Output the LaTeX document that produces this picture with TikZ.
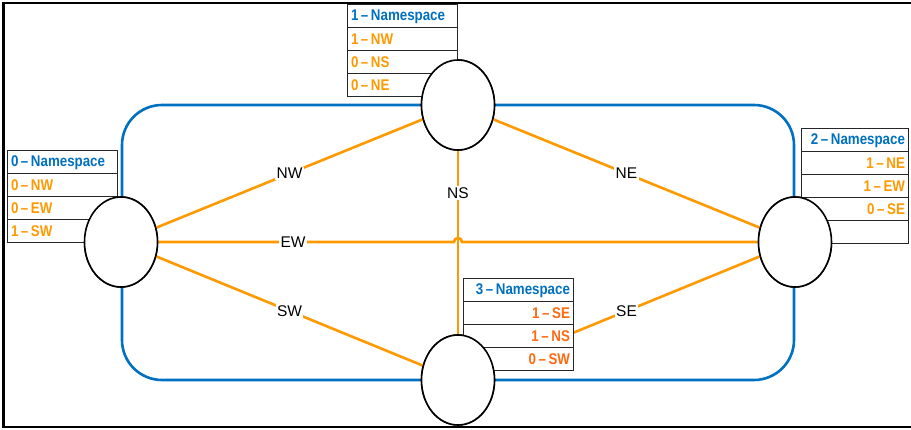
\documentclass[tikz,border=0pt]{standalone}
\usepackage{fontspec}
\setmainfont{Liberation Sans}
\newfontfamily\tabfont[FakeStretch=0.86]{Liberation Sans}
\usetikzlibrary{shapes.geometric}
\definecolor{nsblue}{HTML}{0070C0}
\definecolor{nsorange}{HTML}{FF9900}
\definecolor{nsdark}{HTML}{FF6A10}
\tikzset{
  frame/.style={line width=2.6pt, black},
  ring/.style={line width=2.6pt, nsblue, rounded corners=40pt},
  edge/.style={line width=2.6pt, nsorange},
  elab/.style={fill=white, inner sep=1.5pt, font=\fontsize{15.5}{15.5}\selectfont, text=black},
  site/.style={ellipse, draw=black, line width=1.6pt, fill=white, minimum width=73pt, minimum height=90pt, inner sep=0pt},
  cell/.style={draw=black!85, line width=1pt, fill=white, minimum height=23pt, inner sep=0pt,
    font=\tabfont\bfseries\fontsize{15.5}{15.5}\selectfont},
  lcell/.style={cell, text width=102pt, minimum width=110pt, align=left},
  rcell/.style={cell, text width=101pt, minimum width=107pt, align=right},
  r3cell/.style={cell, text width=104pt, minimum width=110pt, align=right},
  hd/.style={text=nsblue},
  ro/.style={text=nsorange},
  rd/.style={text=nsdark},
}
\begin{document}
\begin{tikzpicture}[x=1pt,y=-1pt]
\useasboundingbox (0,0) rectangle (911,430);
\draw[frame] (911,3) -- (3.5,3) -- (3.5,427) -- (911,427);
\draw[ring] (122,105) rectangle (794,380);

% sites (coordinates for edges)
\node[site] (W) at (121,242) {};
\node[site] (N) at (458,105) {};
\node[site] (E) at (795,242) {};
\node[site] (S) at (458,380) {};

% edges
\draw[edge] (W) -- node[elab, pos=0.5] (lNW) {NW} (N);
\draw[edge] (N) -- node[elab, pos=0.5] (lNE) {NE} (E);
\draw[edge] (W) -- node[elab, pos=0.5] (lSW) {SW} (S);
\draw[edge] (S) -- node[elab, pos=0.5] (lSE) {SE} (E);
\draw[edge] (N) -- node[elab, pos=0.23] (lNS) {NS} (S);
\coordinate (hop) at (458,242);
\draw[edge] (W.east) -- ([xshift=-4pt]hop) arc[start angle=180, end angle=360, radius=4] -- (E.west);
\node[elab] (lEW) at (293,242) {EW};

% tables
\node[lcell, hd] (t1a) at (402,16.5) {1\,–\,Namespace};
\node[lcell, ro] (t1b) at (402,39.5) {1\,–\,NW};
\node[lcell, ro] (t1c) at (402,62.5) {0\,–\,NS};
\node[lcell, ro] (t1d) at (402,85.5) {0\,–\,NE};

\node[lcell, hd] (t0a) at (62,162.5) {0\,–\,Namespace};
\node[lcell, ro] (t0b) at (62,185.5) {0\,–\,NW};
\node[lcell, ro] (t0c) at (62,208.5) {0\,–\,EW};
\node[lcell, ro] (t0d) at (62,231.5) {1\,–\,SW};

\node[rcell, hd] (t2a) at (854.5,140.5) {2\,–\,Namespace};
\node[rcell, ro] (t2b) at (854.5,163.5) {1\,–\,NE};
\node[rcell, ro] (t2c) at (854.5,186.5) {1\,–\,EW};
\node[rcell, ro] (t2d) at (854.5,209.5) {0\,–\,SE};
\node[rcell] (t2e) at (854.5,232.5) {};

\node[r3cell, hd] (t3a) at (518,290.5) {3\,–\,Namespace};
\node[r3cell, rd] (t3b) at (518,313.5) {1\,–\,SE};
\node[r3cell, rd] (t3c) at (518,336.5) {1\,–\,NS};
\node[r3cell, rd] (t3d) at (518,359.5) {0\,–\,SW};

% sites redrawn on top of tables
\node[site] at (W) {};
\node[site] at (N) {};
\node[site] at (E) {};
\node[site] at (S) {};
\end{tikzpicture}
\end{document}
